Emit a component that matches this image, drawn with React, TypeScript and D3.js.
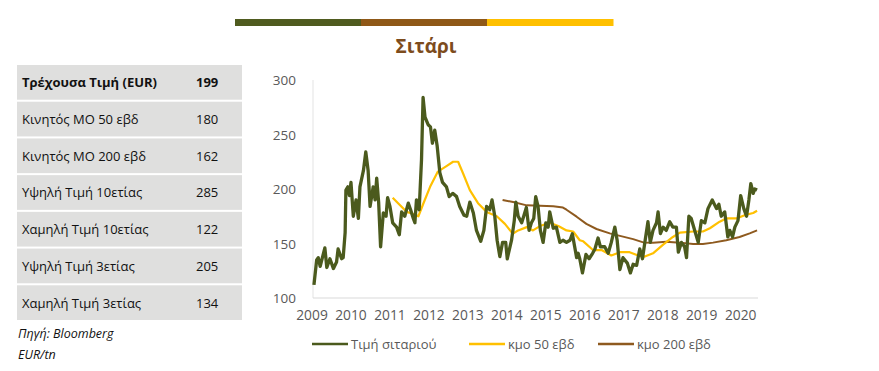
import React, { useRef, useEffect } from 'react';
import * as d3 from 'd3';

// [decimal year, EUR/tn]
const price: [number, number][] = [
  [2009.05, 112], [2009.12, 135], [2009.16, 137], [2009.21, 129], [2009.33, 146], [2009.38, 128],
  [2009.46, 136], [2009.55, 127], [2009.63, 133], [2009.67, 145], [2009.76, 136], [2009.8, 137],
  [2009.85, 160], [2009.87, 199], [2009.92, 202], [2009.96, 194], [2010.0, 206], [2010.06, 175],
  [2010.13, 190], [2010.19, 173], [2010.23, 202], [2010.32, 217], [2010.38, 234], [2010.44, 217],
  [2010.49, 184], [2010.57, 202], [2010.62, 190], [2010.66, 210], [2010.71, 188], [2010.76, 147],
  [2010.83, 178], [2010.9, 175], [2010.94, 192], [2011.0, 184], [2011.07, 169], [2011.17, 165],
  [2011.24, 158], [2011.3, 179], [2011.38, 175], [2011.47, 187], [2011.53, 181], [2011.6, 173],
  [2011.64, 169], [2011.68, 190], [2011.75, 181], [2011.81, 227], [2011.85, 284], [2011.9, 266],
  [2011.98, 259], [2012.04, 257], [2012.09, 242], [2012.15, 254], [2012.21, 240], [2012.28, 215],
  [2012.35, 206], [2012.45, 202], [2012.52, 193], [2012.61, 196], [2012.71, 193], [2012.79, 184],
  [2012.9, 176], [2012.97, 175], [2013.05, 188], [2013.14, 178], [2013.22, 162], [2013.33, 152],
  [2013.41, 162], [2013.48, 184], [2013.56, 181], [2013.62, 190], [2013.69, 175], [2013.75, 153],
  [2013.82, 138], [2013.89, 151], [2013.97, 151], [2014.01, 136], [2014.08, 147], [2014.12, 153],
  [2014.19, 171], [2014.23, 188], [2014.29, 175], [2014.38, 169], [2014.44, 176], [2014.5, 183],
  [2014.57, 162], [2014.63, 169], [2014.69, 173], [2014.74, 193], [2014.8, 184], [2014.86, 162],
  [2014.93, 151], [2015.0, 169], [2015.06, 165], [2015.1, 179], [2015.19, 164], [2015.27, 165],
  [2015.36, 151], [2015.44, 153], [2015.53, 151], [2015.62, 153], [2015.68, 159], [2015.74, 147],
  [2015.79, 137], [2015.83, 141], [2015.87, 136], [2015.94, 123], [2016.03, 140], [2016.11, 136],
  [2016.2, 141], [2016.26, 145], [2016.34, 155], [2016.4, 147], [2016.51, 147], [2016.6, 141],
  [2016.68, 151], [2016.77, 165], [2016.83, 153], [2016.9, 126], [2016.98, 137], [2017.09, 132],
  [2017.17, 123], [2017.24, 131], [2017.33, 130], [2017.41, 145], [2017.48, 136], [2017.54, 151],
  [2017.62, 170], [2017.68, 151], [2017.75, 162], [2017.84, 169], [2017.88, 179], [2017.94, 159],
  [2018.01, 165], [2018.09, 162], [2018.18, 170], [2018.26, 165], [2018.35, 165], [2018.4, 142],
  [2018.48, 151], [2018.56, 147], [2018.61, 137], [2018.67, 175], [2018.73, 173], [2018.82, 162],
  [2018.91, 151], [2018.99, 171], [2019.08, 169], [2019.16, 182], [2019.27, 190], [2019.38, 182],
  [2019.44, 186], [2019.5, 175], [2019.59, 179], [2019.67, 156], [2019.72, 162], [2019.79, 156],
  [2019.85, 165], [2019.93, 171], [2020.0, 194], [2020.08, 182], [2020.15, 175], [2020.21, 190],
  [2020.26, 205], [2020.32, 196], [2020.36, 200], [2020.42, 199],
];

const ma50: [number, number][] = [
  [2011.07, 192], [2011.26, 185], [2011.43, 179], [2011.6, 177], [2011.73, 175], [2011.85, 186],
  [2012.03, 202], [2012.23, 216], [2012.45, 221], [2012.62, 225], [2012.75, 225], [2012.88, 214],
  [2013.05, 199], [2013.26, 187], [2013.48, 179], [2013.74, 175], [2013.95, 168], [2014.15, 159],
  [2014.29, 162], [2014.51, 165], [2014.67, 162], [2014.85, 166], [2015.1, 169], [2015.32, 166],
  [2015.53, 162], [2015.7, 161], [2015.87, 153], [2015.96, 152], [2016.21, 144], [2016.43, 144],
  [2016.68, 139], [2016.9, 142], [2017.15, 142], [2017.37, 139], [2017.54, 138], [2017.75, 141],
  [2018.01, 149], [2018.26, 156], [2018.44, 160], [2018.78, 161], [2019.03, 161], [2019.21, 164],
  [2019.46, 170], [2019.63, 173], [2019.89, 173], [2020.1, 176], [2020.32, 178], [2020.42, 180],
];

const ma200: [number, number][] = [
  [2013.89, 190], [2014.16, 188], [2014.51, 185], [2014.85, 184.6], [2015.19, 184.2], [2015.44, 183],
  [2015.53, 181], [2015.79, 174.6], [2016.04, 168], [2016.3, 163.3], [2016.64, 159.3], [2016.98, 156.3],
  [2017.24, 154], [2017.5, 151], [2017.75, 150.8], [2018.09, 151.5], [2018.44, 150.8], [2018.78, 149.5],
  [2019.03, 149.5], [2019.29, 150.8], [2019.63, 153], [2019.97, 156], [2020.23, 159.3], [2020.42, 162],
];

const years = d3.range(2009, 2021);
const yTicks = [100, 150, 200, 250, 300];

const tableLabels = [
  'Τρέχουσα Τιμή (EUR)', 'Κινητός ΜΟ 50 εβδ', 'Κινητός ΜΟ 200 εβδ', 'Υψηλή Τιμή 10ετίας',
  'Χαμηλή Τιμή 10ετίας', 'Υψηλή Τιμή 3ετίας', 'Χαμηλή Τιμή 3ετίας',
];
const tableValues = [199, 180, 162, 285, 122, 205, 134];

const seriesNames = ['Τιμή σιταριού', 'κμο 50 εβδ', 'κμο 200 εβδ'];
const seriesColors = ['#4b5a1d', '#ffc000', '#8e5a1f'];
const barColors = ['#4f5b1f', '#8f5817', '#ffc000'];

const FONT = '"Open Sans", sans-serif';

const App = () => {
  const ref = useRef<SVGSVGElement | null>(null);

  useEffect(() => {
    if (!ref.current) return;
    const svg = d3.select(ref.current);
    svg.selectAll('*').remove();

    // top colour bar
    const bar = d3.scaleBand<number>().domain([0, 1, 2]).range([235, 613]);
    svg.append('g').selectAll('rect').data(barColors).join('rect')
      .attr('x', (_, i) => bar(i)!).attr('y', 19).attr('width', bar.bandwidth() + 0.5).attr('height', 7)
      .attr('fill', d => d);

    svg.append('text').attr('x', 426).attr('y', 53).attr('text-anchor', 'middle')
      .attr('font-family', FONT).attr('font-size', 19).attr('font-weight', 700).attr('fill', '#7d4c1d')
      .text('Σιτάρι');

    // table
    const rowY = d3.scaleBand<number>().domain(d3.range(tableLabels.length)).range([65, 322]);
    const rows = svg.append('g').selectAll('g').data(tableLabels).join('g')
      .attr('transform', (_, i) => `translate(0,${rowY(i)})`);
    rows.append('rect').attr('x', 17).attr('width', 225).attr('height', rowY.bandwidth() - 2).attr('fill', '#dfdfde');
    rows.append('text').attr('x', 22).attr('y', rowY.bandwidth() / 2 + 4)
      .attr('font-family', FONT).attr('font-size', 13).attr('fill', '#111')
      .attr('font-weight', (_, i) => (i === 0 ? 700 : 400)).text(d => d);
    rows.append('text').attr('x', 196).attr('y', rowY.bandwidth() / 2 + 4)
      .attr('font-family', FONT).attr('font-size', 13).attr('fill', '#111')
      .attr('font-weight', (_, i) => (i === 0 ? 700 : 400)).text((_, i) => tableValues[i]);

    svg.append('text').attr('x', 18).attr('y', 338).attr('font-family', FONT).attr('font-size', 12.5)
      .attr('font-style', 'italic').attr('fill', '#111').text('Πηγή: Bloomberg');
    svg.append('text').attr('x', 18).attr('y', 359).attr('font-family', FONT).attr('font-size', 12.5)
      .attr('font-style', 'italic').attr('fill', '#111').text('EUR/tn');

    // chart
    const x = d3.scaleLinear().domain([2009, 2020]).range([312, 740.7]);
    const y = d3.scaleLinear().domain([100, 300]).range([298, 80]);

    svg.append('line').attr('x1', 313).attr('x2', 313).attr('y1', y(300)).attr('y2', y(100))
      .attr('stroke', '#e3e3e3').attr('stroke-width', 1);
    svg.append('line').attr('x1', 313).attr('x2', 758).attr('y1', y(100)).attr('y2', y(100))
      .attr('stroke', '#d9d9d9').attr('stroke-width', 1.2);

    svg.append('g').selectAll('text').data(yTicks).join('text')
      .attr('x', 296).attr('y', d => y(d) + 5).attr('text-anchor', 'end')
      .attr('font-family', FONT).attr('font-size', 13.5).attr('fill', '#595959').text(d => d);

    svg.append('g').selectAll('text').data(years).join('text')
      .attr('x', d => x(d)).attr('y', 320).attr('text-anchor', 'middle')
      .attr('font-family', FONT).attr('font-size', 13.8).attr('fill', '#595959').text(d => d);

    const line = d3.line<[number, number]>().x(d => x(d[0])).y(d => y(d[1]));
    const series = [price, ma50, ma200];
    const widths = [3.3, 2.2, 2];
    [2, 1, 0].forEach(i => {
      svg.append('path').datum(series[i]).attr('d', line).attr('fill', 'none')
        .attr('stroke', seriesColors[i]).attr('stroke-width', widths[i]).attr('stroke-linejoin', 'round');
    });

    // legend
    const legendX = [312, 469, 598];
    const lg = svg.append('g').selectAll('g').data(seriesNames).join('g')
      .attr('transform', (_, i) => `translate(${legendX[i]},344)`);
    lg.append('line').attr('x1', 0).attr('x2', 36).attr('stroke', (_, i) => seriesColors[i]).attr('stroke-width', 2.5);
    lg.append('text').attr('x', 39).attr('y', 4.5).attr('font-family', FONT).attr('font-size', 13)
      .attr('fill', '#595959').text(d => d);
  }, []);

  return (
    <svg ref={ref} width={879} height={371} style={{ position: 'absolute', left: 0, top: 0, background: '#fff' }} />
  );
};

export default App;
